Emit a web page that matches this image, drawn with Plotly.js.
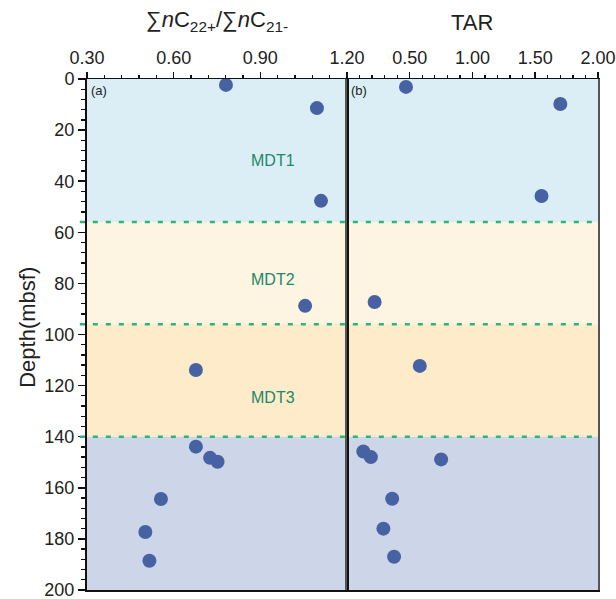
<!DOCTYPE html>
<html>
<head>
<meta charset="utf-8">
<script src="https://cdn.plot.ly/plotly-3.0.1.min.js"></script>
<style>
  html, body { margin: 0; padding: 0; background: #ffffff; }
  #chart { width: 616px; height: 599px; }
</style>
</head>
<body>
<div id="chart"></div>
<script>
// Depth profile of the n-alkane ratio (panel a) and TAR (panel b)
const ratioDepth = [2.3, 11.4, 47.7, 88.8, 113.9, 143.9, 148.3, 149.8, 164.4, 177.3, 188.6];
const ratioValue = [0.781, 1.096, 1.110, 1.055, 0.677, 0.677, 0.726, 0.752, 0.556, 0.502, 0.516];

const tarDepth = [3.1, 9.8, 45.8, 87.3, 112.3, 145.8, 148.0, 148.9, 164.3, 176.0, 187.0];
const tarValue = [0.47, 1.70, 1.55, 0.22, 0.58, 0.13, 0.19, 0.75, 0.36, 0.29, 0.375];

// Depth units (zones) and their boundaries
const unitNames = ['MDT1', 'MDT2', 'MDT3'];
const unitLabelDepth = [32, 78.3, 124.5];
const unitTop = [0, 56, 96, 140];
const unitBottom = [56, 96, 140, 200];
const unitFill = ['#dbeef5', '#fef4e2', '#fdebc9', '#cdd5e8'];
const boundaries = [56, 96, 140];

const depthTicks = [0, 20, 40, 60, 80, 100, 120, 140, 160, 180, 200];
const leftTicks = [0.30, 0.60, 0.90, 1.20];
const rightTicks = [0.50, 1.00, 1.50, 2.00];

const FONT = 'Arial, "Liberation Sans", sans-serif';
const pointColor = '#4662a3';
const zoneText = '#23876c';
const lineGreen = '#2bb57a';

const traces = [
  {
    x: ratioValue, y: ratioDepth, xaxis: 'x', yaxis: 'y',
    type: 'scatter', mode: 'markers',
    marker: { size: 14, color: pointColor },
    hoverinfo: 'x+y', showlegend: false
  },
  {
    x: tarValue, y: tarDepth, xaxis: 'x2', yaxis: 'y2',
    type: 'scatter', mode: 'markers',
    marker: { size: 14, color: pointColor },
    hoverinfo: 'x+y', showlegend: false
  }
];

const shapes = [];
for (let i = 0; i < unitTop.length; i++) {
  shapes.push({
    type: 'rect', xref: 'paper', yref: 'y', layer: 'below',
    x0: 0, x1: 1, y0: unitTop[i], y1: unitBottom[i],
    fillcolor: unitFill[i], line: { width: 0 }
  });
}
boundaries.forEach(d => {
  shapes.push({
    type: 'line', xref: 'paper', yref: 'y', layer: 'above',
    x0: -0.014, x1: 1, y0: d, y1: d,
    line: { color: lineGreen, width: 2.5, dash: '5px,8px' }
  });
});

const annotations = [];
unitNames.forEach((name, i) => {
  annotations.push({
    xref: 'x', yref: 'y', x: 0.944, y: unitLabelDepth[i],
    xanchor: 'center', yanchor: 'middle',
    text: name, showarrow: false,
    font: { family: FONT, size: 16, color: zoneText }
  });
});
annotations.push(
  { xref: 'paper', yref: 'paper', x: 0.254, y: 1.114, xanchor: 'center', yanchor: 'middle',
    text: '∑<i>n</i>C<sub>22+</sub>/∑<i>n</i>C<sub>21-</sub>', showarrow: false,
    font: { family: FONT, size: 22, color: '#222222' } },
  { xref: 'paper', yref: 'paper', x: 0.754, y: 1.111, xanchor: 'center', yanchor: 'middle',
    text: 'TAR', showarrow: false,
    font: { family: FONT, size: 22, color: '#222222' } },
  { xref: 'paper', yref: 'paper', x: -0.1155, y: 0.515, xanchor: 'center', yanchor: 'middle',
    textangle: -90, text: 'Depth(mbsf)', showarrow: false,
    font: { family: FONT, size: 22, color: '#222222' } },
  { xref: 'paper', yref: 'paper', x: 0.004, y: 0.997, xanchor: 'left', yanchor: 'top',
    text: '(a)', showarrow: false,
    font: { family: FONT, size: 13, color: '#222222' } },
  { xref: 'paper', yref: 'paper', x: 0.512, y: 0.997, xanchor: 'left', yanchor: 'top',
    text: '(b)', showarrow: false,
    font: { family: FONT, size: 13, color: '#222222' } }
);

const xCommon = {
  side: 'top', showgrid: false, zeroline: false,
  showline: true, linecolor: '#111111', linewidth: 1.5, mirror: true,
  ticks: 'outside', ticklen: 6, tickwidth: 1.5, tickcolor: '#111111',
  tickfont: { family: FONT, size: 18, color: '#222222' },
  tickformat: '.2f', ticklabeloverflow: 'allow', fixedrange: true
};

const layout = {
  width: 616, height: 599,
  margin: { l: 87, r: 18, t: 79, b: 9 },
  paper_bgcolor: '#ffffff', plot_bgcolor: 'rgba(0,0,0,0)',
  font: { family: FONT, color: '#222222' },
  xaxis: Object.assign({}, xCommon, {
    domain: [0, 0.5088], range: [0.3, 1.2], anchor: 'y',
    tickmode: 'array', tickvals: leftTicks,
    minor: { tickmode: 'linear', tick0: 0.3, dtick: 0.06, ticks: 'outside', ticklen: 3, tickwidth: 1.3, tickcolor: '#111111', showgrid: false }
  }),
  xaxis2: Object.assign({}, xCommon, {
    domain: [0.5088, 1], range: [0, 2], anchor: 'y2',
    tickmode: 'array', tickvals: rightTicks,
    minor: { tickmode: 'linear', tick0: 0, dtick: 0.1, ticks: 'outside', ticklen: 3, tickwidth: 1.3, tickcolor: '#111111', showgrid: false }
  }),
  yaxis: {
    range: [200.02, 0], anchor: 'x', showgrid: false, zeroline: false,
    showline: true, linecolor: '#111111', linewidth: 2, mirror: true,
    ticks: 'outside', ticklen: 7, tickwidth: 1.5, tickcolor: '#111111',
    tickmode: 'array', tickvals: depthTicks, ticklabeloverflow: 'allow',
    tickfont: { family: FONT, size: 18, color: '#222222' },
    minor: { tickmode: 'linear', tick0: 0, dtick: 4, ticks: 'outside', ticklen: 4, tickwidth: 1.3, tickcolor: '#111111', showgrid: false },
    fixedrange: true
  },
  yaxis2: {
    range: [200.02, 0], anchor: 'x2', matches: 'y', showgrid: false, zeroline: false,
    showline: true, linecolor: '#555555', linewidth: 1.5, mirror: true,
    ticks: '', showticklabels: false, fixedrange: true
  },
  shapes: shapes,
  annotations: annotations
};

Plotly.newPlot('chart', traces, layout, { displayModeBar: false, staticPlot: true });
</script>
</body>
</html>
